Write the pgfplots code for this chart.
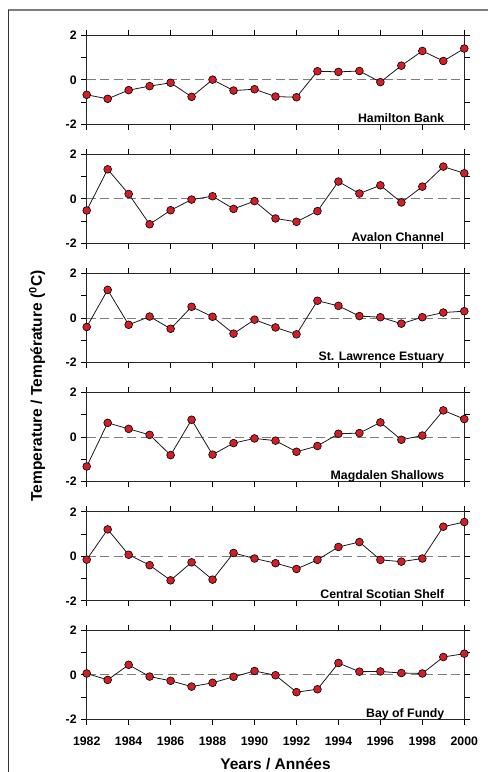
\documentclass[border=0pt]{standalone}
\usepackage{pgfplots}
\usepackage{pgfplotstable}
\pgfplotsset{compat=1.18}
\usepackage{fontspec}
\setmainfont{Liberation Sans}
\definecolor{mred}{RGB}{210,30,38}
\definecolor{dgrey}{RGB}{125,125,125}

\pgfplotstableread{
year HB AC SLE MS CSS BF
1982 -0.67 -0.52 -0.40 -1.32 -0.15 0.06
1983 -0.85 1.33 1.27 0.64 1.21 -0.23
1984 -0.46 0.22 -0.30 0.37 0.07 0.45
1985 -0.28 -1.14 0.07 0.10 -0.40 -0.08
1986 -0.13 -0.51 -0.48 -0.81 -1.08 -0.27
1987 -0.76 -0.03 0.51 0.78 -0.27 -0.53
1988 0.01 0.12 0.06 -0.79 -1.05 -0.36
1989 -0.48 -0.45 -0.70 -0.27 0.15 -0.09
1990 -0.42 -0.10 -0.07 -0.06 -0.10 0.17
1991 -0.75 -0.88 -0.42 -0.16 -0.31 -0.02
1992 -0.78 -1.03 -0.73 -0.66 -0.57 -0.78
1993 0.39 -0.55 0.78 -0.40 -0.16 -0.65
1994 0.36 0.78 0.55 0.15 0.42 0.53
1995 0.40 0.24 0.09 0.18 0.64 0.14
1996 -0.10 0.61 0.04 0.66 -0.16 0.15
1997 0.64 -0.16 -0.25 -0.12 -0.24 0.08
1998 1.30 0.55 0.04 0.07 -0.10 0.06
1999 0.85 1.45 0.25 1.20 1.33 0.80
2000 1.41 1.15 0.31 0.81 1.54 0.95
}\datatable

\pgfplotsset{
 panel/.style={
  scale only axis, width=377.6pt, height=89pt,
  xmin=1982, xmax=2000, ymin=-2, ymax=2,
  xtick={1982,1984,1986,1988,1990,1992,1994,1996,1998,2000},
  xticklabels={},
  ytick={-2,0,2}, yticklabels={-2,0,2},
  minor ytick={-1,1},
  xtick pos=both, ytick pos=both,
  tick align=outside,
  major tick length=5.5pt, minor tick length=5.5pt,
  every tick/.style={draw=black, line width=1pt},
  every major tick/.style={draw=black, line width=1pt},
  every minor tick/.style={draw=black, line width=1pt},
  axis line style={line width=1.1pt, black!85},
  ticklabel style={font=\bfseries\fontsize{12.3}{14}\selectfont},
  yticklabel style={xshift=-1pt},
  xticklabel style={yshift=-9pt},
  clip=false,
  anchor=south west,
 },
 zeroline/.style={dgrey, line width=0.9pt, dash pattern=on 9pt off 4.5pt},
 series/.style={black!90, line width=0.8pt, mark=*, mark size=3.9pt,
   mark options={fill=mred, draw=black, line width=0.6pt, solid}},
}
\newcommand{\plabel}[1]{\node[anchor=base east, font=\bfseries\fontsize{12.3}{14}\selectfont] at (rel axis cs:0.956,0) [yshift=2pt] {#1};}

\begin{document}
\begin{tikzpicture}
\useasboundingbox (0pt,0pt) rectangle (488pt,772pt);
\draw[dgrey, line width=1.6pt] (8pt,762pt) -- (488pt,762pt);
\draw[black!80, line width=0.9pt] (8pt,762pt) -- (8pt,0pt);

\begin{axis}[panel, at={(86.7pt,647.6pt)}]
\addplot[zeroline] coordinates {(1982,0) (2000,0)};
\addplot[series] table[x=year,y=HB] {\datatable};
\plabel{Hamilton Bank}
\end{axis}

\begin{axis}[panel, at={(86.7pt,528.6pt)}]
\addplot[zeroline] coordinates {(1982,0) (2000,0)};
\addplot[series] table[x=year,y=AC] {\datatable};
\plabel{Avalon Channel}
\end{axis}

\begin{axis}[panel, at={(86.7pt,409.4pt)}]
\addplot[zeroline] coordinates {(1982,0) (2000,0)};
\addplot[series] table[x=year,y=SLE] {\datatable};
\plabel{St. Lawrence Estuary}
\end{axis}

\begin{axis}[panel, at={(86.7pt,290.4pt)}]
\addplot[zeroline] coordinates {(1982,0) (2000,0)};
\addplot[series] table[x=year,y=MS] {\datatable};
\plabel{Magdalen Shallows}
\end{axis}

\begin{axis}[panel, at={(86.7pt,171.2pt)}]
\addplot[zeroline] coordinates {(1982,0) (2000,0)};
\addplot[series] table[x=year,y=CSS] {\datatable};
\plabel{Central Scotian Shelf}
\end{axis}

\begin{axis}[panel, at={(86.7pt,52.7pt)},
  xticklabels={1982,1984,1986,1988,1990,1992,1994,1996,1998,2000}]
\addplot[zeroline] coordinates {(1982,0) (2000,0)};
\addplot[series] table[x=year,y=BF] {\datatable};
\plabel{Bay of Fundy}
\end{axis}

\node[anchor=base, font=\bfseries\fontsize{15.5}{18}\selectfont] at (275.5pt,2pt) {Years / Années};
\node[rotate=90, anchor=center, font=\bfseries\fontsize{15.5}{18}\selectfont] at (37pt,386pt) {Temperature / Température (\textsuperscript{0}C)};
\end{tikzpicture}
\end{document}
